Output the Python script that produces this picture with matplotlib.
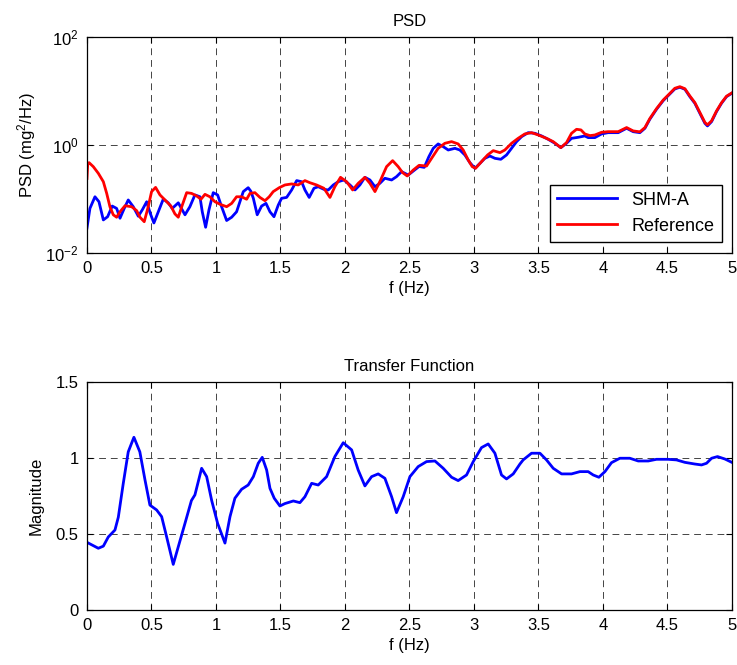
import numpy as np
import matplotlib
matplotlib.use('Agg')
import matplotlib.pyplot as plt

plt.rcParams['font.family'] = ['Liberation Sans', 'DejaVu Sans']
plt.rcParams['mathtext.fontset'] = 'custom'
plt.rcParams['mathtext.rm'] = 'Liberation Sans'
plt.rcParams['mathtext.it'] = 'Liberation Sans:italic'
plt.rcParams['font.size'] = 12

# PSD of SHM-A (mg^2/Hz)
f_shm = [0.00, 0.023, 0.062, 0.093, 0.127, 0.16, 0.196, 0.23, 0.256, 0.289, 0.32, 0.359, 0.398,
         0.429, 0.463, 0.491, 0.519, 0.553, 0.592, 0.63, 0.661, 0.708, 0.76, 0.798, 0.837, 0.876,
         0.894, 0.92, 0.946, 0.979, 1.013, 1.044, 1.083, 1.122, 1.16, 1.186, 1.212, 1.25, 1.27,
         1.29, 1.32, 1.354, 1.388, 1.419, 1.45, 1.483, 1.509, 1.548, 1.587, 1.626, 1.664, 1.69,
         1.723, 1.76, 1.793, 1.837, 1.871, 1.91, 1.948, 1.992, 2.039, 2.078, 2.116, 2.155, 2.194,
         2.233, 2.271, 2.31, 2.362, 2.4, 2.439, 2.491, 2.53, 2.575, 2.615, 2.651, 2.685, 2.723,
         2.762, 2.801, 2.853, 2.891, 2.93, 2.969, 3.008, 3.047, 3.085, 3.124, 3.163, 3.209, 3.253,
         3.292, 3.331, 3.37, 3.421, 3.473, 3.525, 3.576, 3.628, 3.674, 3.718, 3.757, 3.809, 3.86,
         3.886, 3.938, 3.99, 4.041, 4.119, 4.184, 4.235, 4.287, 4.326, 4.364, 4.416, 4.468, 4.519,
         4.558, 4.597, 4.636, 4.674, 4.713, 4.752, 4.791, 4.811, 4.843, 4.881, 4.92, 4.959, 5.0]
psd_shm = [0.029, 0.067, 0.110, 0.089, 0.041, 0.047, 0.074, 0.067, 0.044, 0.067, 0.096, 0.072, 0.048,
           0.063, 0.089, 0.054, 0.036, 0.058, 0.100, 0.085, 0.067, 0.085, 0.051, 0.072, 0.119, 0.110,
           0.058, 0.030, 0.063, 0.131, 0.119, 0.072, 0.040, 0.046, 0.058, 0.089, 0.137, 0.162, 0.140,
           0.103, 0.051, 0.074, 0.083, 0.058, 0.047, 0.077, 0.103, 0.107, 0.147, 0.219, 0.209, 0.147,
           0.107, 0.158, 0.169, 0.151, 0.147, 0.182, 0.209, 0.225, 0.182, 0.147, 0.182, 0.252, 0.225,
           0.169, 0.195, 0.242, 0.225, 0.259, 0.321, 0.278, 0.330, 0.400, 0.385, 0.608, 0.867, 1.045,
           0.931, 0.807, 0.867, 0.807, 0.653, 0.471, 0.370, 0.457, 0.566, 0.625, 0.566, 0.543, 0.653,
           0.867, 1.153, 1.426, 1.690, 1.644, 1.469, 1.274, 1.074, 0.893, 1.074, 1.327, 1.387, 1.469,
           1.368, 1.368, 1.600, 1.690, 1.690, 2.037, 1.762, 1.690, 2.037, 2.992, 4.581, 6.622, 8.790,
           10.89, 11.70, 10.74, 7.852, 5.916, 3.864, 2.518, 2.249, 2.704, 4.140, 5.916, 7.852, 9.057]

# PSD of reference sensor (mg^2/Hz)
f_ref = [0.00, 0.006, 0.016, 0.049, 0.088, 0.127, 0.153, 0.178, 0.204, 0.23, 0.256, 0.295, 0.346,
         0.385, 0.411, 0.444, 0.475, 0.501, 0.532, 0.566, 0.605, 0.651, 0.682, 0.708, 0.739, 0.773,
         0.811, 0.85, 0.884, 0.915, 0.953, 0.992, 1.031, 1.083, 1.122, 1.16, 1.199, 1.238, 1.264,
         1.302, 1.341, 1.38, 1.413, 1.444, 1.491, 1.535, 1.587, 1.638, 1.69, 1.729, 1.78, 1.837,
         1.884, 1.922, 1.966, 2.013, 2.06, 2.103, 2.155, 2.194, 2.233, 2.277, 2.323, 2.37, 2.413,
         2.447, 2.483, 2.53, 2.575, 2.633, 2.672, 2.723, 2.775, 2.827, 2.878, 2.917, 2.956, 2.987,
         3.013, 3.059, 3.106, 3.15, 3.202, 3.24, 3.292, 3.343, 3.395, 3.447, 3.499, 3.563, 3.615,
         3.674, 3.718, 3.757, 3.796, 3.83, 3.86, 3.9, 3.938, 3.99, 4.041, 4.119, 4.184, 4.235,
         4.287, 4.326, 4.364, 4.416, 4.468, 4.519, 4.558, 4.597, 4.636, 4.674, 4.713, 4.752, 4.791,
         4.811, 4.843, 4.881, 4.92, 4.959, 5.0]
psd_ref = [0.24, 0.45, 0.471, 0.397, 0.299, 0.209, 0.127, 0.072, 0.051, 0.046, 0.058, 0.075, 0.072,
           0.061, 0.046, 0.038, 0.072, 0.137, 0.164, 0.119, 0.096, 0.074, 0.053, 0.046, 0.077, 0.131,
           0.127, 0.114, 0.099, 0.122, 0.110, 0.089, 0.080, 0.072, 0.083, 0.110, 0.110, 0.099, 0.127,
           0.131, 0.107, 0.093, 0.110, 0.137, 0.162, 0.182, 0.190, 0.182, 0.219, 0.200, 0.182, 0.158,
           0.107, 0.169, 0.252, 0.209, 0.147, 0.195, 0.252, 0.195, 0.137, 0.225, 0.397, 0.513, 0.397,
           0.308, 0.267, 0.344, 0.420, 0.408, 0.566, 0.867, 1.074, 1.153, 1.045, 0.807, 0.527, 0.397,
           0.370, 0.491, 0.653, 0.785, 0.721, 0.807, 1.074, 1.327, 1.600, 1.690, 1.531, 1.327, 1.153,
           0.893, 1.104, 1.644, 1.950, 1.900, 1.600, 1.490, 1.531, 1.718, 1.762, 1.762, 2.100, 1.820,
           1.750, 2.100, 3.08, 4.70, 6.80, 9.00, 11.2, 12.0, 11.0, 8.10, 6.10, 4.00, 2.62,
           2.36, 2.80, 4.25, 6.05, 8.00, 9.20]

# transfer function magnitude
f_tf = [0.0, 0.088, 0.127, 0.165, 0.217, 0.243, 0.281, 0.32, 0.364, 0.41, 0.45, 0.488, 0.54, 0.579,
        0.618, 0.669, 0.708, 0.76, 0.81, 0.837, 0.889, 0.928, 0.967, 1.013, 1.07, 1.109, 1.147,
        1.199, 1.25, 1.29, 1.328, 1.359, 1.393, 1.419, 1.452, 1.496, 1.535, 1.6, 1.651, 1.69, 1.742,
        1.793, 1.858, 1.922, 1.987, 2.052, 2.103, 2.155, 2.207, 2.258, 2.31, 2.362, 2.4, 2.452,
        2.504, 2.568, 2.633, 2.698, 2.762, 2.827, 2.878, 2.943, 2.995, 3.059, 3.111, 3.163, 3.214,
        3.253, 3.305, 3.357, 3.382, 3.447, 3.512, 3.563, 3.615, 3.68, 3.757, 3.822, 3.886, 3.925,
        3.969, 4.016, 4.067, 4.132, 4.209, 4.274, 4.352, 4.416, 4.506, 4.571, 4.636, 4.713, 4.765,
        4.804, 4.843, 4.889, 4.946, 5.0]
mag_tf = [0.445, 0.406, 0.42, 0.48, 0.526, 0.61, 0.83, 1.04, 1.136, 1.04, 0.855, 0.69, 0.658, 0.614,
          0.48, 0.30, 0.416, 0.57, 0.72, 0.757, 0.932, 0.877, 0.72, 0.57, 0.44, 0.614, 0.735,
          0.794, 0.822, 0.877, 0.965, 1.004, 0.921, 0.80, 0.735, 0.684, 0.70, 0.717, 0.706, 0.745, 0.833,
          0.822, 0.877, 1.009, 1.10, 1.053, 0.92, 0.816, 0.877, 0.895, 0.866, 0.745, 0.64, 0.745,
          0.877, 0.943, 0.976, 0.98, 0.932, 0.873, 0.851, 0.888, 0.976, 1.068, 1.092, 1.031, 0.888,
          0.862, 0.895, 0.96, 0.987, 1.031, 1.031, 0.987, 0.932, 0.895, 0.895, 0.91, 0.91, 0.888,
          0.873, 0.91, 0.969, 0.998, 0.998, 0.98, 0.98, 0.991, 0.991, 0.987, 0.971, 0.96, 0.954,
          0.965, 0.998, 1.009, 0.993, 0.971]

xticks = [0, 0.5, 1, 1.5, 2, 2.5, 3, 3.5, 4, 4.5, 5]
xtick_labels = ['0', '0.5', '1', '1.5', '2', '2.5', '3', '3.5', '4', '4.5', '5']
yticks_tf = [0, 0.5, 1, 1.5]
ytick_labels_tf = ['0', '0.5', '1', '1.5']

fig = plt.figure(figsize=(7.37, 6.65), dpi=100)
ax1 = fig.add_axes([0.118, 0.6195, 0.875, 0.325])
ax2 = fig.add_axes([0.118, 0.0827, 0.875, 0.343])


def style(ax):
    ax.set_xlim(0, 5)
    ax.set_xticks(xticks)
    ax.set_xticklabels(xtick_labels)
    ax.tick_params(direction='in', top=True, right=True, length=4, width=0.8, pad=6)
    ax.grid(True, color='#444444', linestyle=(0, (7, 5)), linewidth=0.7)
    for s in ax.spines.values():
        s.set_linewidth(0.9)


ax1.semilogy(f_shm, psd_shm, color='#0000ff', lw=2, label='SHM-A')
ax1.semilogy(f_ref, psd_ref, color='#ff0000', lw=2, label='Reference')
style(ax1)
ax1.set_ylim(1e-2, 1e2)
ax1.set_yticks([1e-2, 1e0, 1e2])
ax1.minorticks_off()
ax1.set_title('PSD', fontsize=12, pad=8)
ax1.set_xlabel('f (Hz)', labelpad=3)
ax1.set_ylabel('PSD (mg$^2$/Hz)', labelpad=5)
ax1.legend(loc='lower right', bbox_to_anchor=(0.984, 0.051), borderaxespad=0,
           fancybox=False, edgecolor='black', framealpha=1, handlelength=3.3,
           fontsize=13, borderpad=0.4, labelspacing=0.5)

ax2.plot(f_tf, mag_tf, color='#0000ff', lw=2)
style(ax2)
ax2.set_ylim(0, 1.5)
ax2.set_yticks(yticks_tf)
ax2.set_yticklabels(ytick_labels_tf)
ax2.set_title('Transfer Function', fontsize=12, pad=8)
ax2.set_xlabel('f (Hz)', labelpad=3)
ax2.set_ylabel('Magnitude', labelpad=9)

fig.savefig('out.png', dpi=100)
